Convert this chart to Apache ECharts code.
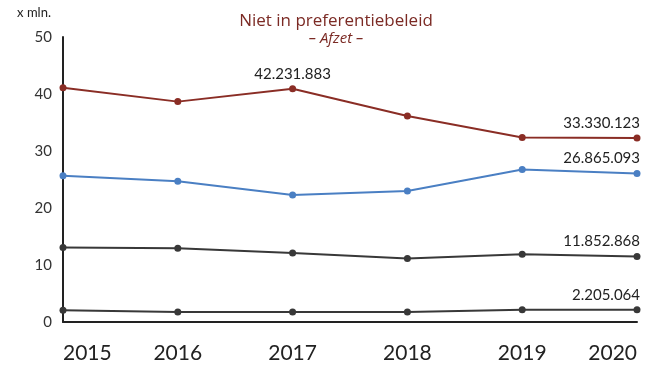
<!DOCTYPE html>
<html>
<head>
<meta charset="utf-8">
<script src="https://cdn.jsdelivr.net/npm/echarts@6/dist/echarts.min.js"></script>
<style>
  html, body { margin: 0; padding: 0; background: #fff; }
  #chart { width: 649px; height: 368px; }
</style>
</head>
<body>
<div id="chart"></div>
<script>
// Afzet, niet in preferentiebeleid (x mln.)
const years = ['2015', '2016', '2017', '2018', '2019', '2020'];
const totaal = [42.4, 39.9, 42.231883, 37.3, 33.4, 33.330123];
const reeksBlauw = [26.5, 25.5, 23.0, 23.7, 27.6, 26.865093];
const reeksGrijs = [13.5, 13.35, 12.5, 11.5, 12.26, 11.852868];
const reeksLaag = [2.12, 1.81, 1.81, 1.81, 2.2, 2.205064];
const yTicks = [0, 10, 20, 30, 40, 50];

// which points carry a value label
const labelledTotaal = [2, 5];
const labelledOther = [5];

const FONT = 'Lato';
const TITLE_FONT = 'Open Sans';

function fmtNL(v) {
  const n = Math.round(v * 1e6).toString();
  return n.replace(/\B(?=(\d{3})+(?!\d))/g, '.');
}

function buildData(values, labelled) {
  const last = values.length - 1;
  return values.map((v, i) => ({
    value: v,
    label: {
      show: labelled.indexOf(i) !== -1,
      align: i === last ? 'right' : 'center',
      offset: i === last ? [3, 0] : [0, 0]
    }
  }));
}

function lineSeries(name, values, color, labelled) {
  return {
    name: name,
    type: 'line',
    yAxisIndex: 1,
    data: buildData(values, labelled),
    symbol: 'circle',
    symbolSize: 7,
    showSymbol: true,
    lineStyle: { color: color, width: 2 },
    itemStyle: { color: color },
    label: {
      position: 'top',
      distance: 4,
      color: '#222',
      fontFamily: FONT,
      fontSize: 15,
      formatter: p => fmtNL(p.value)
    },
    emphasis: { disabled: true },
    animation: false
  };
}

const chart = echarts.init(document.getElementById('chart'));
chart.setOption({
  backgroundColor: '#fff',
  title: {
    text: 'Niet in preferentiebeleid',
    subtext: '– Afzet –',
    left: 331,
    textAlign: 'center',
    top: 8,
    itemGap: 1,
    textStyle: { color: '#7b2a24', fontFamily: TITLE_FONT, fontSize: 17, fontWeight: 'normal' },
    subtextStyle: { color: '#7b2a24', fontFamily: TITLE_FONT, fontSize: 15, fontStyle: 'italic' }
  },
  grid: { left: 63, right: 12, top: 37, bottom: 46, containLabel: false },
  xAxis: {
    type: 'category',
    data: years,
    boundaryGap: false,
    axisLine: { show: true, lineStyle: { color: '#222', width: 2 } },
    axisTick: { show: false },
    axisLabel: {
      color: '#222', fontFamily: FONT, fontSize: 21, margin: 21,
      alignMinLabel: 'left', alignMaxLabel: 'right'
    },
    splitLine: { show: false }
  },
  yAxis: [
    {
      type: 'value',
      min: yTicks[0],
      max: yTicks[yTicks.length - 1],
      interval: yTicks[1] - yTicks[0],
      name: 'x mln.',
      nameLocation: 'end',
      nameGap: 18,
      nameTextStyle: { color: '#222', fontFamily: FONT, fontSize: 13, align: 'right', padding: [0, 12, 0, 0] },
      axisLine: { show: true, lineStyle: { color: '#222', width: 2 } },
      axisTick: { show: false },
      axisLabel: { color: '#333', fontFamily: FONT, fontSize: 15, margin: 11 },
      splitLine: { show: false }
    },
    {
      type: 'value',
      min: 0,
      max: 51.6,
      show: false,
      splitLine: { show: false }
    }
  ],
  series: [
    lineSeries('Totaal', totaal, '#8a2d25', labelledTotaal),
    lineSeries('Blauw', reeksBlauw, '#4a7fc3', labelledOther),
    lineSeries('Grijs', reeksGrijs, '#383838', labelledOther),
    lineSeries('Laag', reeksLaag, '#383838', labelledOther)
  ]
});
</script>
</body>
</html>
